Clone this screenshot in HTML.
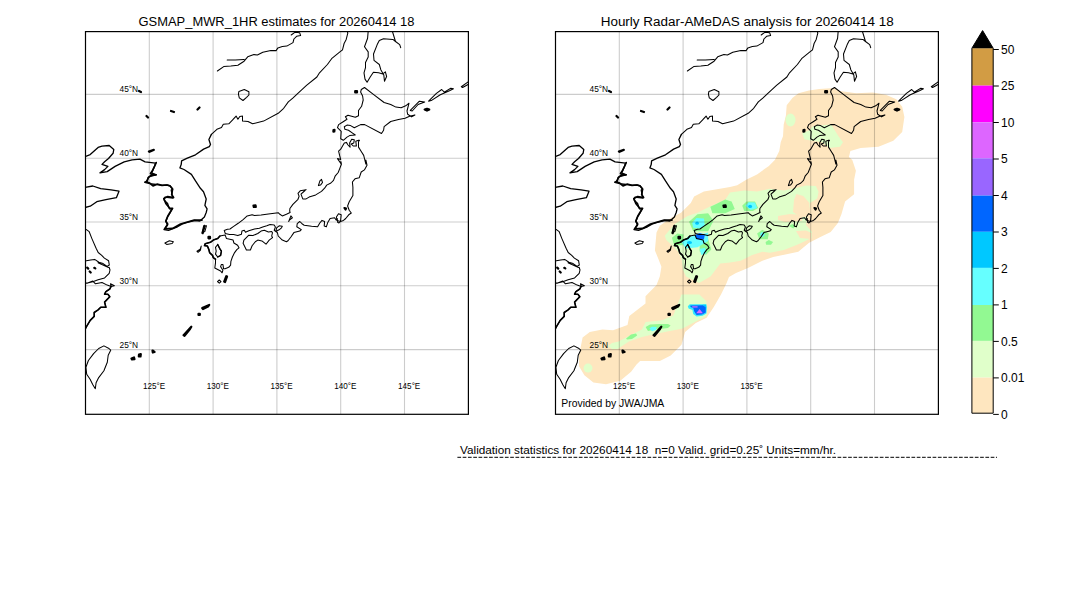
<!DOCTYPE html>
<html><head><meta charset="utf-8">
<style>
html,body{margin:0;padding:0;background:#fff;width:1080px;height:612px;overflow:hidden;}
svg{position:absolute;left:0;top:0;}
text{font-family:"Liberation Sans",sans-serif;fill:#000;}
.grid line{stroke:#000;stroke-opacity:0.2;stroke-width:1.1;}
.coast{fill:none;stroke:#000;stroke-width:1.1;stroke-linejoin:round;stroke-linecap:round;}
.lab{font-size:9.8px;}
.cb{font-size:12px;}
</style></head>
<body>
<svg width="1080" height="612" viewBox="0 0 1080 612">
<defs>
  <clipPath id="mapclip"><rect x="0" y="0" width="382.9" height="382.7"/></clipPath>
  <g id="grid" class="grid">
    <line x1="63.8" y1="0" x2="63.8" y2="382.7"/>
    <line x1="127.6" y1="0" x2="127.6" y2="382.7"/>
    <line x1="191.4" y1="0" x2="191.4" y2="382.7"/>
    <line x1="255.2" y1="0" x2="255.2" y2="382.7"/>
    <line x1="319" y1="0" x2="319" y2="382.7"/>
    <line x1="0" y1="62.8" x2="382.9" y2="62.8"/>
    <line x1="0" y1="126.6" x2="382.9" y2="126.6"/>
    <line x1="0" y1="190.4" x2="382.9" y2="190.4"/>
    <line x1="0" y1="254.2" x2="382.9" y2="254.2"/>
    <line x1="0" y1="318" x2="382.9" y2="318"/>
  </g>
  <g id="labels" class="lab">
    <text x="52.6" y="60.2" font-size="9.6" text-anchor="end" textLength="18.6" lengthAdjust="spacingAndGlyphs">45°N</text>
    <text x="52.6" y="124.2" font-size="9.6" text-anchor="end" textLength="18.6" lengthAdjust="spacingAndGlyphs">40°N</text>
    <text x="52.6" y="188.2" font-size="9.6" text-anchor="end" textLength="18.6" lengthAdjust="spacingAndGlyphs">35°N</text>
    <text x="52.6" y="252.2" font-size="9.6" text-anchor="end" textLength="18.6" lengthAdjust="spacingAndGlyphs">30°N</text>
    <text x="52.6" y="316.2" font-size="9.6" text-anchor="end" textLength="18.6" lengthAdjust="spacingAndGlyphs">25°N</text>
    <text x="68.5" y="357.9" text-anchor="middle" textLength="22.2" lengthAdjust="spacingAndGlyphs">125°E</text>
    <text x="132.3" y="357.9" text-anchor="middle" textLength="22.2" lengthAdjust="spacingAndGlyphs">130°E</text>
    <text x="196.1" y="357.9" text-anchor="middle" textLength="22.2" lengthAdjust="spacingAndGlyphs">135°E</text>
  </g>
  <g id="labels2" class="lab">
    <text x="259.9" y="357.9" text-anchor="middle" textLength="22.2" lengthAdjust="spacingAndGlyphs">140°E</text>
    <text x="323.7" y="357.9" text-anchor="middle" textLength="22.2" lengthAdjust="spacingAndGlyphs">145°E</text>
  </g>
  <g id="coast" class="coast"><path stroke-width="1.05" d="M217.4,71.0 L223.7,66.6 L230.8,66.1 L237.9,65.2 L244.1,61.2 L247.7,56.8 L253.9,54.6 L257.4,55.0 L262.8,52.3 L270.8,50.6 L276.1,50.6 L277.9,47.9 L282.3,46.6 L286.8,46.1 L293.0,42.6 L293.9,39.0 L296.6,36.3 L300.6,35.4 L299.7,32.8 L294.8,32.3 L291.2,35.0 M227.2,59.9 L235.2,59.9 L244.1,59.4 M238.9,91.4 L244.3,89.5 L248.9,91.8 L248.9,95.0 L246.6,97.3 L243.0,100.5 L239.3,97.8 L238.4,94.1Z M211.4,134.4 L216.9,129.3 L221.5,127.5 L223.3,124.3 L228.8,123.8 L232.4,120.2 L236.1,116.1 L237.9,119.3 L239.8,116.5 L242.5,116.1 L242.5,121.1 L248.0,121.5 L252.6,123.8 L263.6,121.1 L278.2,113.3 L283.7,108.3 L288.3,101.9 L292.8,98.2 L297.6,93.7 L306.5,85.4 L316.9,77.0 L319.5,72.8 L327.4,64.5 L331.6,58.7 L339.9,51.9 L342.5,49.8 L344.1,43.5 L346.2,39.4 L347.8,33.1 L347.2,31.0 M368.2,31.0 L367.6,38.3 L364.5,46.7 L368.2,51.9 L368.2,57.1 L365.5,62.4 L365.5,67.6 L364.0,72.8 L365.0,79.1 L367.1,82.2 L370.2,77.0 L373.4,72.3 L378.6,72.8 L382.8,73.9 L385.4,71.8 L386.6,76.5 L384.5,81.2 L383.8,74.9 L380.8,69.7 L379.3,64.5 L374.0,60.3 L373.5,54.0 L377.2,44.6 L379.3,40.4 L383.5,38.8 L392.9,39.4 L395.5,41.5 L399.7,44.6 L400.7,47.7 M392.3,31.0 L395.5,41.5 M364.5,87.5 L361.3,89.5 L360.6,92.1 L362.6,96.0 L363.2,100.0 L361.6,106.3 L358.5,110.5 L358.5,115.7 L355.3,117.3 L348.0,115.2 L345.4,116.7 L347.0,119.3 L342.8,122.0 L338.6,124.6 L337.5,127.7 L341.2,131.4 L340.7,138.7 L343.3,140.3 L347.0,137.1 L349.6,135.6 L355.3,135.0 L352.2,132.9 L348.5,130.3 L344.9,129.3 L344.3,126.7 L347.0,125.1 L350.6,125.6 L354.3,127.7 L360.6,124.6 L364.7,124.6 L381.5,133.5 L383.6,130.3 L384.1,126.7 L390.7,121.5 L398.5,119.5 L405.1,118.2 L409.6,116.3 L414.9,115.0 L411.6,116.9 L407.7,114.3 L407.0,111.0 L409.0,103.2 L405.7,105.8 L401.1,107.8 L395.9,107.1 L390.7,104.5 L384.1,102.5 L373.7,94.7Z M410.3,110.4 L419.4,101.2 L424.7,101.9 L418.1,104.5 L412.2,111.0Z M428.6,101.2 L436.4,93.4 L441.7,89.5 L444.3,92.1 L450.8,88.2 L453.4,88.8 L449.5,90.8 L440.3,94.7 L431.2,100.6Z M461.3,86.8 L468.5,81.6 L468.5,84.2 L462.6,87.5Z M341.2,164.0 L337.5,158.6 L340.7,159.6 L339.6,155.4 L338.6,151.2 L340.7,149.2 L344.3,142.9 L346.4,142.4 L348.0,145.0 L350.1,147.1 L349.6,142.9 L351.7,139.2 L354.3,139.7 L353.8,142.9 L351.1,143.9 L353.2,146.0 L356.4,146.0 L355.8,141.3 L358.5,140.3 L359.5,140.3 L358.5,141.8 L358.5,147.1 L361.1,151.2 L363.7,155.4 L365.8,164.0 M318.4,185.6 L319.9,180.9 L321.5,179.3 L322.5,182.5 L320.5,185.1Z M341.2,164.0 L340.9,161.6 L341.4,164.2 L339.8,168.4 L338.2,172.5 L335.1,176.2 L333.5,180.4 L330.9,183.0 L326.7,185.1 L324.6,188.2 L321.5,191.4 L315.7,194.9 L309.1,197.1 L306.1,198.9 L302.8,198.9 L302.1,197.1 L301.0,194.1 L303.9,191.5 L306.1,189.7 L300.2,190.8 L298.0,193.4 L299.1,196.3 L298.0,199.3 L292.9,204.4 L289.9,208.5 L289.7,211.0 L290.1,212.6 L286.4,214.3 L282.3,215.9 L279.9,214.3 L278.2,212.7 L268.4,213.9 L261.1,215.1 L254.5,215.5 L252.1,214.7 L247.2,215.9 L243.1,219.6 L238.2,223.3 L233.3,226.6 L230.0,229.0 L227.4,229.3 L224.2,230.4 L225.3,233.5 L229.5,234.5 L233.6,234.5 L237.8,235.6 L241.4,234.3 L241.9,231.1 L244.3,230.3 L245.5,232.3 L248.8,230.7 L254.5,229.0 L259.4,228.2 L262.7,227.0 L266.8,225.8 L270.1,224.5 L274.2,224.9 L275.4,227.0 L274.2,230.3 L275.8,231.5 L277.4,232.7 L278.2,236.0 L282.3,240.1 L286.4,241.7 L288.0,240.7 L290.9,237.0 L293.9,232.6 L299.8,231.1 L301.3,229.6 L296.8,226.7 L297.2,223.7 L299.8,221.5 L302.0,223.7 L304.2,225.2 L311.6,226.3 L317.6,226.7 L319.8,223.0 L322.0,220.4 L324.6,221.5 L324.2,225.9 L326.4,226.7 L327.9,222.2 L330.1,218.5 L334.6,217.8 L336.1,220.0 L337.2,218.5 L337.6,222.2 L339.0,223.0 L340.5,221.5 L343.5,220.4 L345.7,218.5 L348.7,214.8 L351.3,213.0 L349.2,210.2 L347.6,206.0 L349.2,201.8 L352.9,195.6 L352.9,187.2 L352.4,182.0 L355.0,178.8 L359.2,177.8 L361.2,172.0 L364.4,169.9 L367.0,165.2 L365.9,160.0 L365.8,164.0 M340.5,221.5 L341.2,214.8 L338.5,213.7 L336.4,217.0 L337.0,220.5Z M288.7,221.5 L290.9,215.9 L292.4,217.8 L289.4,220.0Z M276.6,227.8 L279.1,225.8 L282.3,226.2 L281.5,227.8 L279.1,229.8 L275.8,231.5Z M248.8,235.2 L252.9,235.6 L257.8,233.5 L261.1,231.1 L264.3,230.3 L268.4,231.9 L271.7,231.5 L272.5,232.7 L271.7,236.0 L272.5,237.6 L269.2,240.1 L266.0,244.2 L261.9,240.9 L257.8,240.1 L255.3,241.7 L252.1,245.8 L250.4,250.0 L246.4,250.0 L244.7,246.6 L243.1,243.3 L243.9,240.1Z M225.1,234.9 L219.9,236.0 L217.7,238.6 L213.3,240.1 L210.4,242.3 L205.2,243.8 L204.5,245.6 L207.4,246.0 L208.9,249.6 L209.6,252.6 L212.6,255.5 L213.3,257.7 L215.5,259.2 L215.5,262.9 L214.8,268.0 L217.7,269.5 L220.6,271.0 L222.1,272.8 L222.9,270.2 L220.6,266.6 L221.4,264.4 L222.9,264.4 L223.6,268.8 L225.1,268.8 L228.7,267.3 L230.6,265.1 L230.9,261.4 L232.4,257.0 L234.6,252.6 L236.8,249.6 L239.0,247.8 L237.6,245.2 L233.9,243.0 L233.1,240.1 L230.9,239.4 L226.5,238.6Z M217.7,244.5 L219.9,248.9 L221.4,251.1 L220.6,255.5 L217.7,257.0 L215.5,254.1 L216.2,251.1 L215.5,247.4Z M202.3,232.5 L204.4,226.2 L206.5,225.7 L204.9,231.4Z M201.2,246.1 L200.2,249.2 L197.0,251.3 L198.1,252.3 L200.5,250.0Z M217.5,281.6 L219.3,280.0 L221.0,281.6 L219.3,283.2Z M103.9,345.9 L109.0,348.5 L110.7,350.2 L108.2,355.3 L107.3,362.2 L103.9,370.8 L98.7,377.6 L96.1,382.8 L95.3,388.8 L92.7,384.5 L90.1,379.3 L86.7,374.2 L85.9,367.3 L88.4,360.5 L93.6,353.6 L98.7,348.5Z M87.6,283.1 L92.8,281.1 L95.5,283.8 L102.0,282.5 L107.2,285.1 L111.1,286.4 L114.4,285.7 L110.5,283.8 L111.1,286.4 L109.8,289.0 L105.9,291.6 L104.6,294.2 L107.9,294.2 L109.8,296.8 L107.2,299.4 L104.6,302.1 L105.9,307.3 L100.7,307.3 L98.1,309.9 L94.2,312.5 L94.2,316.4 L90.2,320.4 L86.3,326.9 L85.0,329.5 M109.2,267.4 L110.0,270.0 L109.2,273.3 L104.6,277.9 L98.1,279.8 L92.8,281.8 L87.6,283.1 L85.0,283.1 M86.4,229.6 L89.2,231.7 L91.9,238.6 L96.1,248.3 L98.2,252.5 L101.7,255.3 L104.4,258.1 L108.6,260.8 L109.3,265.0 L107.2,266.4 L103.1,263.6 L98.9,262.2 L94.7,259.4 L90.6,260.1 L86.4,260.8 M164.9,243.0 L169.4,240.8 L173.4,241.7 L172.1,243.5 L166.7,244.4Z M98.0,262.8 L108.5,267.4"/><path stroke-width="2.2" d="M355.2,91.0 L357.0,91.0 L357.0,92.5 L355.2,92.5Z M333.5,130.0 L334.5,129.8 L334.3,131.5 L333.4,131.6Z M424.7,109.5 L427.0,108.8 L429.2,109.6 L427.0,110.6Z M344.5,208.0 L346.0,208.5 L345.5,209.5Z M253.5,205.5 L255.5,205.3 L255.8,207.0 L253.8,207.0Z M208.5,236.8 L210.0,236.8 L210.0,238.3 L208.5,238.3Z M224.2,281.6 L226.3,276.2 L227.0,276.5 L225.0,282.0Z M202.2,308.0 L209.2,304.9 L208.0,306.5 L203.0,309.0Z M198.5,313.8 L199.8,313.8 L199.8,315.0 L198.5,315.0Z M183.6,335.2 L191.3,326.7 L190.0,329.0 L184.5,335.8Z M152.5,350.5 L154.5,352.0 L152.8,352.5Z M131.5,358.5 L134.0,357.5 L134.5,359.2 L132.0,359.5Z M139.0,354.5 L140.8,354.0 L140.5,356.5 L138.8,356.5Z M148.9,151.5 L153.8,149.9 M139.0,91.0 L141.0,92.0 M146.5,116.0 L148.0,117.5 M171.0,111.0 L174.0,112.0 M197.5,109.5 L199.5,107.5 M149.5,151.8 L152.5,150.5 M87.2,267.6 L88.2,268.6 M89.7,271.5 L90.7,272.5 M94.3,267.8 L95.3,268.4"/><path stroke-width="1.3" d="M85.0,187.3 L92.8,186.0 L100.7,188.6 L111.1,189.9 L119.0,191.2 L116.4,197.7 L105.9,199.7 L96.8,201.7 L90.2,206.2 L85.0,207.5 M85.0,156.6 L90.2,154.6 L98.1,147.4 L102.0,146.1 L109.2,145.5 L113.8,149.4 L113.1,153.3 L108.5,158.5 L104.6,161.8 L102.0,164.4 L107.9,166.4 L104.6,169.6 L100.0,172.9 L107.2,171.6 L115.1,166.4 L124.2,161.8 L132.1,159.8 L139.9,159.2 L145.1,161.8 L155.6,163.1 L154.3,167.0 L151.7,172.9 L155.6,174.9 L149.1,176.8 L146.4,181.4 L151.7,184.0 L158.2,184.7 L162.0,185.4 L166.9,185.0 L170.1,185.9 L172.6,189.1 L171.2,190.0 L172.1,194.5 L173.0,198.1 L164.9,197.2 L164.0,199.9 L167.6,203.5 L169.4,208.9 L172.1,208.9 L170.3,212.5 L167.6,217.0 L165.8,221.4 L167.6,225.0 L164.0,229.5 L168.5,230.4 L173.0,228.6 L177.5,226.8 L182.0,224.1 L187.3,222.3 L194.5,220.5 L199.9,221.0 L204.4,217.0 L206.2,212.5 L207.1,208.9 L204.9,205.3 L206.2,199.0 L203.5,191.8 L200.4,188.3 L195.5,180.9 L191.4,174.4 L184.0,169.5 L179.9,167.9 L181.2,164.6 L181.6,160.9 L187.3,158.1 L195.5,154.8 L203.6,149.1 L209.3,146.6 L210.5,144.5 L208.9,139.5 L211.4,134.4"/><path stroke-width="1.7" d="M156.2,162.6 L154.6,166.2 L152.2,171.1 L150.5,173.6 L156.2,174.8 L151.3,175.2 L148.1,177.7 L147.3,180.9 L144.8,182.2 L149.7,183.4 L153.0,185.9 L157.1,184.2 L162.0,185.4 L166.9,185.0 L170.1,185.9 L172.6,189.1 L171.7,194.6 L173.6,197.5 L167.7,196.6 L163.8,198.5 L165.8,203.4 L169.7,208.3 L172.6,208.3 L170.7,211.3 L167.7,216.2 L165.8,221.1 L167.7,224.0 L164.8,228.9 L172.6,228.4 L180.5,224.0 L187.4,222.0 L194.2,220.1 L202.0,220.1"/><path stroke-width="1.6" d="M111.1,286.4 L109.8,289.0 L105.9,291.6 L104.6,294.2 L107.9,294.2 L109.8,296.8 L107.2,299.4 L104.6,302.1 L105.9,307.3 L100.7,307.3 L98.1,309.9 L94.2,312.5 L94.2,316.4 L90.2,320.4 L86.3,326.9 L85.0,329.5 M219.9,236.0 L217.7,238.6 L213.3,240.1 L210.4,242.3 L205.2,243.8 L204.5,245.6 L207.4,246.0 L208.9,249.6 L209.6,252.6 L212.6,255.5 L213.3,257.7 L215.5,259.2"/><path stroke-width="2.4" d="M202.6,233.1 L204.4,225.9"/><path stroke-width="1.4" d="M217.7,244.5 L219.9,248.9 L221.4,251.1 L220.6,255.5 L217.7,257.0"/></g>
</defs>

<!-- titles -->
<text x="276.5" y="26" text-anchor="middle" font-size="12.5" textLength="276" lengthAdjust="spacingAndGlyphs">GSMAP_MWR_1HR estimates for 20260414 18</text>
<text x="747.2" y="26" text-anchor="middle" font-size="12.5" textLength="293" lengthAdjust="spacingAndGlyphs">Hourly Radar-AMeDAS analysis for 20260414 18</text>

<!-- left map -->
<g transform="translate(85.5,31.6)">
  <g clip-path="url(#mapclip)">
    <use href="#grid"/>
    <use href="#coast" transform="translate(-85.5,-31.6)"/>
  </g>
  <use href="#labels"/>
  <use href="#labels2"/>
  <rect x="0" y="0" width="382.9" height="382.7" fill="none" stroke="#000" stroke-width="1.2"/>
</g>

<!-- right map -->
<g transform="translate(555.5,31.6)">
  <g clip-path="url(#mapclip)">
    <g id="precip" transform="translate(-85.5,-31.6)"><path fill="#FEE6BF" d="M295.9,168.9 L304.8,160.0 L309.3,151.1 L310.7,142.2 L313.0,136.3 L313.7,124.4 L315.9,115.6 L316.7,105.2 L322.6,97.8 L328.5,93.3 L338.9,90.4 L349.3,88.9 L364.1,88.1 L370.0,91.1 L386.3,93.3 L402.6,92.6 L415.9,94.8 L426.3,99.3 L432.2,106.7 L434.4,117.0 L432.2,131.9 L423.3,140.7 L408.5,146.7 L390.7,148.1 L380.4,151.1 L378.9,157.0 L382.3,160.0 L385.9,170.8 L384.1,179.8 L384.1,194.2 L375.1,201.4 L371.5,214.0 L367.9,223.0 L360.7,231.9 L349.9,237.3 L339.1,242.7 L328.3,251.7 L303.2,257.1 L292.4,260.7 L278.0,267.9 L266.0,273.0 L259.0,277.0 L256.4,283.6 L251.0,294.4 L243.8,307.0 L236.6,317.8 L225.8,323.1 L215.1,332.1 L211.5,344.7 L200.7,355.5 L189.9,360.9 L170.1,360.9 L166.5,364.5 L161.1,371.7 L150.3,380.7 L136.0,384.3 L123.4,382.5 L114.4,375.3 L109.0,366.3 L109.0,355.5 L110.8,346.5 L112.6,337.5 L119.8,332.1 L132.4,329.4 L143.1,330.3 L157.5,324.9 L159.3,316.0 L175.5,303.4 L175.5,296.2 L186.5,285.0 L189.8,276.5 L191.4,266.7 L188.2,258.5 L184.9,250.4 L186.5,232.4 L189.8,225.8 L201.2,217.7 L211.0,212.8 L220.8,203.0 L224.1,196.4 L233.9,191.5 L260.0,187.0 L267.2,185.2 L276.2,179.8 L287.0,174.4 L299.6,165.4 L306.8,160.0Z"/><path fill="#E0FFCA" d="M194.7,235.7 L204.5,224.2 L217.6,216.0 L227.4,212.8 L240.5,206.2 L255.2,199.7 L260.0,192.4 L274.4,190.6 L287.0,191.5 L299.6,188.8 L314.0,190.6 L327.8,187.5 L336.1,185.4 L345.8,186.1 L348.6,191.7 L347.2,198.6 L340.3,202.8 L338.0,215.0 L336.0,225.0 L342.0,232.0 L341.7,238.0 L327.8,244.4 L313.9,250.0 L300.0,252.8 L292.4,251.7 L281.6,255.3 L270.8,260.7 L260.0,262.5 L250.3,263.4 L240.5,276.5 L229.0,283.0 L216.0,276.5 L213.0,270.0 L211.5,259.0 L208.0,251.5 L202.7,246.1 L196.3,240.0Z"/><path fill="#FEE6BF" d="M326.4,194.0 L333.3,196.0 L339.5,203.0 L339.0,216.7 L330.0,217.0 L323.0,212.0 L324.0,200.0Z"/><path fill="#FEE6BF" d="M308.0,216.0 L320.0,214.0 L332.0,215.0 L332.0,221.0 L315.0,222.0 L308.0,220.0Z"/><path fill="#FEE6BF" d="M326.0,231.0 L336.0,230.6 L341.7,233.0 L341.0,238.9 L330.0,238.0Z"/><path fill="#E0FFCA" d="M343.3,125.9 L361.1,124.4 L368.5,136.3 L373.0,142.2 L370.0,146.7 L359.6,148.1 L352.2,142.2 L341.9,140.7 L334.4,139.3 L332.2,133.3 L338.9,130.4Z"/><path fill="#E0FFCA" d="M148.7,341.5 L158.9,335.9 L171.9,329.4 L175.6,322.0 L192.2,320.2 L203.3,315.6 L211.5,294.4 L229.4,294.4 L236.6,301.6 L236.6,316.0 L225.8,321.4 L212.6,328.5 L198.7,331.3 L184.8,334.1 L171.9,336.9 L158.9,341.5 L150.6,347.0 L147.8,348.9 L142.0,349.0 L138.0,346.0 L142.0,343.0Z"/><ellipse cx="320.5" cy="120.0" rx="5" ry="6.5" fill="#E0FFCA"/><ellipse cx="118.0" cy="368.1" rx="4.5" ry="4.5" fill="#E0FFCA"/><path fill="#92F992" d="M240.3,206.8 L246.7,203.7 L255.2,199.4 L261.6,201.5 L264.8,209.0 L255.2,213.2 L242.4,213.2Z"/><path fill="#92F992" d="M272.2,205.8 L276.5,201.5 L285.0,201.5 L288.2,207.9 L282.9,211.1 L274.3,211.1Z"/><path fill="#66FFFF" d="M275.4,205.8 L278.6,202.2 L285.0,202.6 L287.1,207.9 L280.7,210.0Z"/><path fill="#92F992" d="M219.0,221.8 L227.5,214.3 L238.1,213.2 L243.5,220.7 L238.1,231.3 L223.2,231.3Z"/><path fill="#66FFFF" d="M222.2,222.8 L226.4,217.9 L233.9,218.6 L234.9,226.0 L229.6,228.6 L223.2,227.7Z"/><path fill="#92F992" d="M201.9,237.7 L207.3,233.5 L213.7,234.5 L212.6,245.2 L204.1,245.2Z"/><path fill="#92F992" d="M229.6,239.9 L238.1,238.8 L241.3,249.4 L236.0,254.8 L229.6,251.6Z"/><path fill="#66FFFF" d="M211.5,242.0 L217.9,236.7 L227.5,235.6 L238.1,232.4 L238.1,240.9 L227.5,247.3 L215.8,248.4Z"/><path fill="#66FFFF" d="M229.6,249.0 L234.9,247.7 L236.4,253.3 L231.3,255.0Z"/><path fill="#0066FF" d="M224.9,235.0 L229.6,233.0 L234.9,234.5 L233.9,239.2 L226.4,239.2Z"/><ellipse cx="227.1" cy="223.2" rx="1.8" ry="1.6" fill="#00C8FF"/><ellipse cx="280.1" cy="206.4" rx="2" ry="1.6" fill="#00C8FF"/><ellipse cx="219.5" cy="242.5" rx="2.5" ry="1.6" fill="#00C8FF"/><path fill="#92F992" d="M287.1,233.5 L292.4,229.8 L298.8,233.5 L297.8,239.2 L289.3,239.2Z"/><ellipse cx="292.4" cy="234.5" rx="2.2" ry="2.2" fill="#66FFFF"/><path fill="#92F992" d="M295.6,242.0 L298.8,239.9 L303.1,242.0 L301.0,244.8 L296.1,244.8Z"/><path fill="#92F992" d="M319.1,226.0 L322.3,223.9 L325.5,226.0 L323.3,228.6Z"/><path fill="#92F992" d="M156.1,338.5 L161.0,334.5 L166.0,333.6 L167.2,335.5 L162.0,339.0 L157.0,339.6Z"/><path fill="#92F992" d="M175.6,327.0 L180.0,324.5 L190.0,323.9 L198.0,324.0 L200.6,325.5 L198.0,328.0 L185.0,329.4 L178.0,331.0Z"/><path fill="#66FFFF" d="M179.3,328.5 L182.0,326.7 L186.7,326.9 L186.0,330.0 L182.0,331.3Z"/><path fill="#33E8FF" d="M217.8,306.2 L219.8,304.3 L236.4,304.3 L236.9,307.7 L236.4,313.6 L232.5,315.8 L226.6,316.4 L223.2,313.9 L222.4,310.0 L218.6,308.4Z"/><path fill="#0066FF" d="M220.3,305.5 L233.0,305.2 L235.8,307.0 L235.8,312.6 L232.0,314.6 L226.6,315.1 L224.4,311.8 L223.2,307.9 L220.5,307.0Z"/><path fill="#00C8FF" d="M232.5,304.8 L236.0,304.8 L236.2,307.5 L234.5,306.5Z"/><path fill="#9966FF" d="M222.2,306.0 L227.6,306.0 L227.6,307.7 L222.2,307.7Z"/><path fill="#DD66FF" d="M226.2,313.3 L229.6,308.9 L232.9,313.3Z"/></g>
    <use href="#grid"/>
    <use href="#coast" transform="translate(-85.5,-31.6)"/>
  </g>
  <use href="#labels"/>
  <text x="5.8" y="375.3" font-size="10" textLength="103" lengthAdjust="spacingAndGlyphs">Provided by JWA/JMA</text>
  <rect x="0" y="0" width="382.9" height="382.7" fill="none" stroke="#000" stroke-width="1.2"/>
</g>

<!-- colorbar -->
<g>
  <rect x="971.9" y="48.2" width="21.3" height="37.40" fill="#D29C44"/>
  <rect x="971.9" y="85.6" width="21.3" height="36.70" fill="#FF00FF"/>
  <rect x="971.9" y="122.3" width="21.3" height="36.00" fill="#DD66FF"/>
  <rect x="971.9" y="158.3" width="21.3" height="37.30" fill="#9966FF"/>
  <rect x="971.9" y="195.6" width="21.3" height="36.20" fill="#0066FF"/>
  <rect x="971.9" y="231.8" width="21.3" height="36.10" fill="#00C8FF"/>
  <rect x="971.9" y="267.9" width="21.3" height="37.10" fill="#66FFFF"/>
  <rect x="971.9" y="305.0" width="21.3" height="35.90" fill="#92F992"/>
  <rect x="971.9" y="340.9" width="21.3" height="36.70" fill="#E0FFCA"/>
  <rect x="971.9" y="377.6" width="21.3" height="35.60" fill="#FEE6BF"/>
  <path d="M971.9,413.2 L971.9,48.2 L982.6,30.6 L993.2,48.2 L993.2,413.2 Z" fill="none" stroke="#000" stroke-width="1"/>
  <path d="M971.9,48.2 L982.6,30.6 L993.2,48.2 Z" fill="#000"/>
  <g stroke="#000" stroke-width="1">
    <line x1="993.2" y1="49.5" x2="998.8" y2="49.5"/>
    <line x1="993.2" y1="86.0" x2="998.8" y2="86.0"/>
    <line x1="993.2" y1="122.5" x2="998.8" y2="122.5"/>
    <line x1="993.2" y1="159.0" x2="998.8" y2="159.0"/>
    <line x1="993.2" y1="195.5" x2="998.8" y2="195.5"/>
    <line x1="993.2" y1="232.0" x2="998.8" y2="232.0"/>
    <line x1="993.2" y1="268.4" x2="998.8" y2="268.4"/>
    <line x1="993.2" y1="304.9" x2="998.8" y2="304.9"/>
    <line x1="993.2" y1="341.4" x2="998.8" y2="341.4"/>
    <line x1="993.2" y1="377.9" x2="998.8" y2="377.9"/>
    <line x1="993.2" y1="414.4" x2="998.8" y2="414.4"/>
  </g>
  <g class="cb">
    <text x="1001" y="53.9">50</text>
    <text x="1001" y="90.4">25</text>
    <text x="1001" y="126.9">10</text>
    <text x="1001" y="163.4">5</text>
    <text x="1001" y="199.9">4</text>
    <text x="1001" y="236.4">3</text>
    <text x="1001" y="272.8">2</text>
    <text x="1001" y="309.3">1</text>
    <text x="1001" y="345.8">0.5</text>
    <text x="1001" y="382.3">0.01</text>
    <text x="1001" y="418.8">0</text>
  </g>
</g>

<!-- validation -->
<text x="460" y="453.7" font-size="10" textLength="376" lengthAdjust="spacingAndGlyphs" xml:space="preserve">Validation statistics for 20260414 18  n=0 Valid. grid=0.25˚ Units=mm/hr.</text>
<line x1="457.4" y1="457.3" x2="997" y2="457.3" stroke="#000" stroke-width="1" stroke-dasharray="3.7,1.58"/>
</svg>
</body></html>
